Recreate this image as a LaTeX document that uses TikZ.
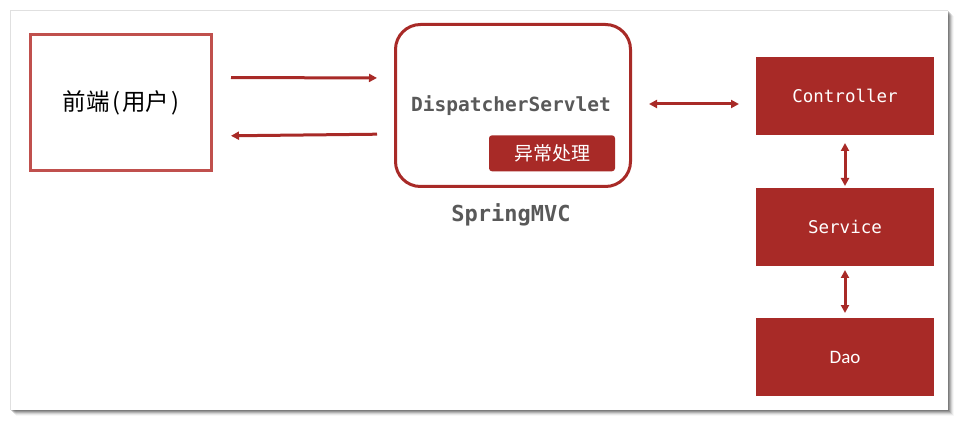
\documentclass[tikz,border=0pt]{standalone}
\usepackage{fontspec}
\setmainfont{Noto Sans CJK SC}
\newfontfamily\cjkfont{Noto Sans CJK SC}
\newfontfamily\monofont{DejaVu Sans Mono}
\newfontfamily\calfont{Carlito}
\usetikzlibrary{arrows.meta}
\definecolor{darkred}{HTML}{A82A27}
\definecolor{lightred}{HTML}{C0504D}
\definecolor{txtgray}{HTML}{595959}
\tikzset{
  frontbox/.style={draw=lightred, line width=3pt, fill=white, inner sep=0pt, outer sep=0pt, font=\cjkfont\fontsize{23.5}{26}\selectfont},
  dsbox/.style={draw=darkred, line width=3pt, rounded corners=25pt, fill=white, inner sep=0pt, outer sep=0pt},
  layerbox/.style={fill=darkred, inner sep=0pt, outer sep=0pt, minimum width=178pt, minimum height=78pt, text=white},
  excbox/.style={fill=darkred, rounded corners=3pt, inner sep=0pt, outer sep=0pt, minimum width=126pt, minimum height=36pt, text=white, font=\cjkfont\fontsize{19}{22}\selectfont},
  monotxt/.style={font=\monofont\fontsize{17.5}{20}\selectfont},
  conn/.style={draw=darkred, line width=3pt, -{Triangle[length=8pt,width=8pt]}},
  dconn/.style={draw=darkred, line width=3pt, {Triangle[length=8pt,width=8pt]}-{Triangle[length=8pt,width=8pt]}}
}
\begin{document}
\begin{tikzpicture}[x=1pt,y=-1pt]
\useasboundingbox (0,0) rectangle (959,422);
% page frame with shadow
\foreach \o/\op in {1/0.18,2/0.16,3/0.14,4/0.10,5/0.06,6/0.03}{
  \fill[black, opacity=\op] (10+\o,10+\o) rectangle (948+\o,410+\o);
}
\fill[white] (10,10) rectangle (948,410);
\draw[black!12, line width=0.6pt] (10,410) -- (10,10) -- (948,10);

% nodes
\node[frontbox, minimum width=181pt, minimum height=136pt] (fe) at (121,102.5) {前端\hspace{3pt}(\hspace{2pt}用户\hspace{2pt})};
\node[dsbox, minimum width=235pt, minimum height=162pt] (ds) at (513,105.5) {};
\node[font=\monofont\bfseries\fontsize{19.5}{22}\selectfont, text=txtgray] (dstxt) at (511,106) {DispatcherServlet};
\node[excbox] (exc) at (552,153.3) {异常处理};
\node[font=\monofont\bfseries\fontsize{22}{24}\selectfont, text=txtgray] (smvc) at (511,215) {SpringMVC};

\node[layerbox, monotxt] (ctrl) at (845,96) {Controller};
\node[layerbox, monotxt] (svc) at (845,227) {Service};
\node[layerbox, font=\calfont\fontsize{19}{22}\selectfont] (dao) at (845,357) {Dao};

% connectors
\draw[conn, shorten <=19.5pt, shorten >=18.5pt] ([yshift=25pt]fe.east) -- ([yshift=27.5pt]ds.west);
\draw[conn, shorten <=18.5pt, shorten >=19.5pt] ([yshift=-28.5pt]ds.west) -- ([yshift=-33.5pt]fe.east);
\draw[dconn, shorten <=18.5pt, shorten >=17pt] ([yshift=1.5pt]ds.east) -- ([yshift=-8pt]ctrl.west);
\draw[dconn, shorten <=8pt, shorten >=2pt] (ctrl.south) -- (svc.north);
\draw[dconn, shorten <=4pt, shorten >=5pt] (svc.south) -- (dao.north);
\end{tikzpicture}
\end{document}
